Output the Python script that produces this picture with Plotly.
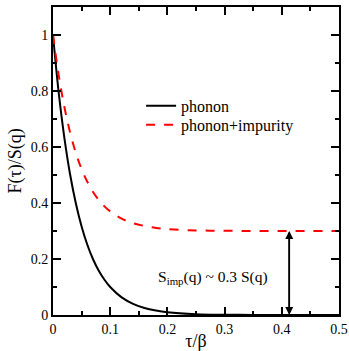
import plotly.graph_objects as go

tau = [0, 0.01, 0.02, 0.03, 0.04, 0.05, 0.06, 0.07, 0.08, 0.09, 0.10, 0.12, 0.14,
       0.16, 0.18, 0.20, 0.25, 0.30, 0.35, 0.40, 0.45, 0.50]
phonon = [1.0, 0.794, 0.631, 0.501, 0.398, 0.316, 0.251, 0.199, 0.158, 0.126, 0.100,
          0.063, 0.040, 0.025, 0.016, 0.010, 0.003, 0.001, 0.0003, 0.0, 0.0, 0.0]
phonon_imp = [1.0, 0.856, 0.742, 0.651, 0.579, 0.521, 0.476, 0.439, 0.411, 0.388, 0.370,
              0.344, 0.328, 0.318, 0.311, 0.307, 0.302, 0.301, 0.300, 0.300, 0.300, 0.300]
arrow_x = 0.413
s_imp = 0.3
xticks = [0, 0.1, 0.2, 0.3, 0.4, 0.5]
xticklabels = ["0", "0.1", "0.2", "0.3", "0.4", "0.5"]
yticks = [0, 0.2, 0.4, 0.6, 0.8, 1.0]
yticklabels = ["0", "0.2", "0.4", "0.6", "0.8", "1"]

FONT = "Times New Roman"

fig = go.Figure()
fig.add_trace(go.Scatter(x=tau, y=phonon, mode="lines", name="phonon", legend="legend",
                         line=dict(color="black", width=2, shape="spline")))
fig.add_trace(go.Scatter(x=tau, y=phonon_imp, mode="lines", name="phonon+impurity",
                         legend="legend2",
                         line=dict(color="#ff0000", width=2, dash="dash", shape="spline")))

fig.add_annotation(x=arrow_x, y=0, ax=arrow_x, ay=s_imp, xref="x", yref="y",
                   axref="x", ayref="y", showarrow=True, arrowhead=2, arrowsize=1,
                   arrowwidth=1.6, arrowcolor="black", text="")
fig.add_annotation(x=arrow_x, y=s_imp, ax=arrow_x, ay=0, xref="x", yref="y",
                   axref="x", ayref="y", showarrow=True, arrowhead=2, arrowsize=1,
                   arrowwidth=1.6, arrowcolor="black", text="")
fig.add_annotation(x=0.28, y=0.135, xref="x", yref="y", showarrow=False,
                   text="S<sub>imp</sub>(q) ~ 0.3 S(q)",
                   font=dict(family=FONT, size=15.5, color="black"))

axis_common = dict(showline=True, linecolor="black", linewidth=2, mirror="ticks",
                   ticks="inside", ticklen=8, tickwidth=1.5, tickcolor="black",
                   showgrid=False, zeroline=False, automargin=False,
                   tickfont=dict(family=FONT, size=14, color="black"))

fig.update_xaxes(range=[0, 0.5], tickvals=xticks, ticktext=xticklabels,
                 minor=dict(dtick=0.05, ticks="inside", ticklen=4, tickwidth=1.5,
                            tickcolor="black", showgrid=False),
                 title=dict(text="τ/β", font=dict(family=FONT, size=18, color="black"),
                            standoff=0),
                 **axis_common)
fig.update_yaxes(range=[0, 1.1], tickvals=yticks, ticktext=yticklabels,
                 minor=dict(dtick=0.1, ticks="inside", ticklen=4, tickwidth=1.5,
                            tickcolor="black", showgrid=False),
                 title=dict(text="F(τ)/S(q)", font=dict(family=FONT, size=18, color="black"),
                            standoff=4),
                 **axis_common)

leg_common = dict(xanchor="left", yanchor="middle", bgcolor="rgba(0,0,0,0)",
                  font=dict(family=FONT, size=16, color="black"), itemwidth=30)
fig.update_layout(width=349, height=351, margin=dict(l=53, r=10, t=7, b=36),
                  plot_bgcolor="white", paper_bgcolor="white",
                  font=dict(family=FONT),
                  showlegend=True,
                  legend=dict(x=0.308, y=0.679, **leg_common),
                  legend2=dict(x=0.308, y=0.617, **leg_common))

fig.write_html("out.html", config={"displayModeBar": False},
               post_script="document.body.style.margin='0';document.body.style.padding='0';")
